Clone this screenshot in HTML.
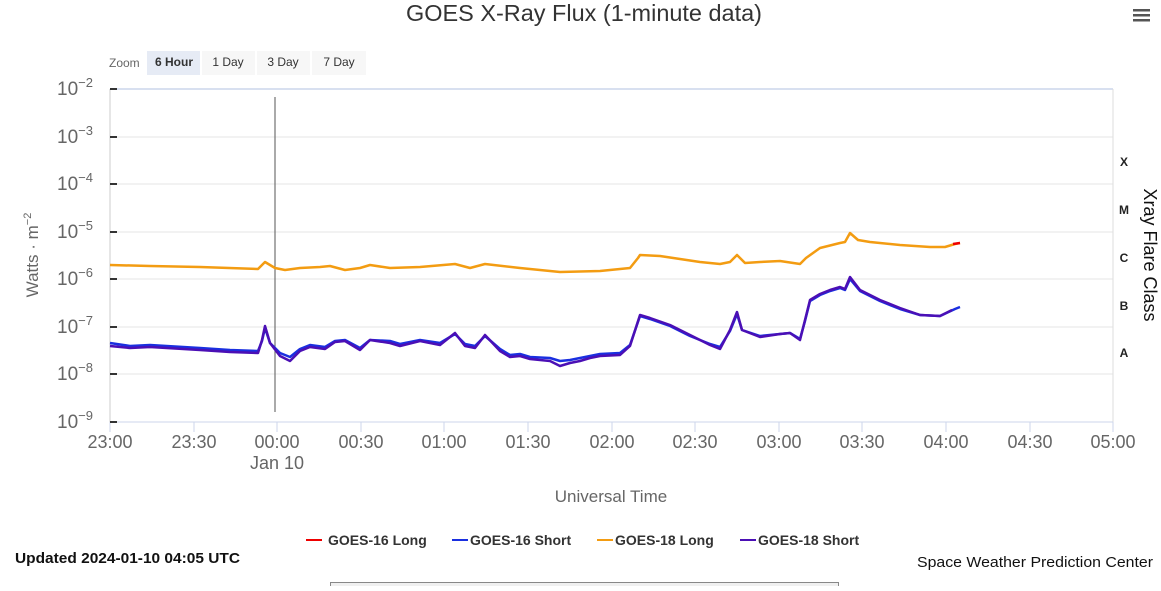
<!DOCTYPE html>
<html><head><meta charset="utf-8"><style>
body{margin:0;background:#fff;width:1161px;height:586px;overflow:hidden;font-family:"Liberation Sans","DejaVu Sans",sans-serif}
svg text{font-family:"Liberation Sans","DejaVu Sans",sans-serif}
</style></head><body>
<svg width="1161" height="586" viewBox="0 0 1161 586">
<text x="584" y="21" text-anchor="middle" font-size="23" fill="#333" textLength="356" lengthAdjust="spacingAndGlyphs">GOES X-Ray Flux (1-minute data)</text>
<g fill="#555"><rect x="1133" y="9" width="17" height="2.5"/><rect x="1133" y="14" width="17" height="2.5"/><rect x="1133" y="19" width="17" height="2.5"/></g>
<text x="109" y="67" font-size="12" fill="#666">Zoom</text>
<rect x="147" y="51" width="53" height="24" fill="#e6ebf5"/>
<rect x="202" y="51" width="53" height="24" fill="#f7f7f7"/>
<rect x="257" y="51" width="53" height="24" fill="#f7f7f7"/>
<rect x="312" y="51" width="54" height="24" fill="#f7f7f7"/>
<g font-size="12" fill="#333" text-anchor="middle"><text x="174" y="66" font-weight="bold">6 Hour</text><text x="228" y="66">1 Day</text><text x="283" y="66">3 Day</text><text x="339" y="66">7 Day</text></g>
<g stroke="#e6e6e6" stroke-width="1">
<line x1="110" y1="137" x2="1113" y2="137"/><line x1="110" y1="184" x2="1113" y2="184"/><line x1="110" y1="232" x2="1113" y2="232"/><line x1="110" y1="279" x2="1113" y2="279"/><line x1="110" y1="327" x2="1113" y2="327"/><line x1="110" y1="374" x2="1113" y2="374"/>
</g>
<line x1="110" y1="89" x2="1113" y2="89" stroke="#ccd6eb" stroke-width="1.5"/>
<line x1="1113" y1="89" x2="1113" y2="422" stroke="#ddd"/>
<line x1="110" y1="89" x2="110" y2="422" stroke="#ccc"/>
<line x1="110" y1="422" x2="1113" y2="422" stroke="#ccd6eb"/>
<g stroke="#ccd6eb"><line x1="110" y1="422" x2="110" y2="432"/><line x1="194" y1="422" x2="194" y2="432"/><line x1="277" y1="422" x2="277" y2="432"/><line x1="361" y1="422" x2="361" y2="432"/><line x1="444" y1="422" x2="444" y2="432"/><line x1="528" y1="422" x2="528" y2="432"/><line x1="612" y1="422" x2="612" y2="432"/><line x1="695" y1="422" x2="695" y2="432"/><line x1="779" y1="422" x2="779" y2="432"/><line x1="862" y1="422" x2="862" y2="432"/><line x1="946" y1="422" x2="946" y2="432"/><line x1="1030" y1="422" x2="1030" y2="432"/><line x1="1113" y1="422" x2="1113" y2="432"/></g>
<g stroke="#333" stroke-width="2"><line x1="110" y1="89" x2="117" y2="89"/><line x1="110" y1="137" x2="117" y2="137"/><line x1="110" y1="184" x2="117" y2="184"/><line x1="110" y1="232" x2="117" y2="232"/><line x1="110" y1="279" x2="117" y2="279"/><line x1="110" y1="327" x2="117" y2="327"/><line x1="110" y1="374" x2="117" y2="374"/><line x1="110" y1="422" x2="117" y2="422"/></g>
<g font-size="19" fill="#666" text-anchor="end">
<text x="93" y="95">10<tspan dy="-8" font-size="13">−2</tspan></text>
<text x="93" y="143">10<tspan dy="-8" font-size="13">−3</tspan></text>
<text x="93" y="190">10<tspan dy="-8" font-size="13">−4</tspan></text>
<text x="93" y="238">10<tspan dy="-8" font-size="13">−5</tspan></text>
<text x="93" y="285">10<tspan dy="-8" font-size="13">−6</tspan></text>
<text x="93" y="333">10<tspan dy="-8" font-size="13">−7</tspan></text>
<text x="93" y="380">10<tspan dy="-8" font-size="13">−8</tspan></text>
<text x="93" y="428">10<tspan dy="-8" font-size="13">−9</tspan></text>
</g>
<g font-size="18" fill="#666" text-anchor="middle">
<text x="110" y="448">23:00</text><text x="194" y="448">23:30</text><text x="277" y="448">00:00</text><text x="277" y="469">Jan 10</text><text x="361" y="448">00:30</text><text x="444" y="448">01:00</text><text x="528" y="448">01:30</text><text x="612" y="448">02:00</text><text x="695" y="448">02:30</text><text x="779" y="448">03:00</text><text x="862" y="448">03:30</text><text x="946" y="448">04:00</text><text x="1030" y="448">04:30</text><text x="1113" y="448">05:00</text>
</g>
<text x="611" y="502" text-anchor="middle" font-size="17" fill="#666">Universal Time</text>
<text transform="translate(38,255) rotate(-90)" text-anchor="middle" font-size="17" fill="#666">Watts · m<tspan dy="-7" font-size="11">−2</tspan></text>
<g font-family="Liberation Mono,monospace" font-size="12" font-weight="bold" fill="#222" text-anchor="middle">
<text x="1124" y="166">X</text><text x="1124" y="214">M</text><text x="1124" y="262">C</text><text x="1124" y="310">B</text><text x="1124" y="357">A</text></g>
<text transform="translate(1144,255) rotate(90)" text-anchor="middle" font-size="18" fill="#111">Xray Flare Class</text>
<line x1="275" y1="97" x2="275" y2="412" stroke="#555" stroke-width="1"/>
<g fill="none" stroke-width="2.5" stroke-linejoin="round">
<polyline stroke="#f39c12" points="110,265 150,266 200,267 258,269 265,262 275,268 285,270 300,268 320,267 330,266 345,270 360,268 370,265 390,268 420,267 455,264 470,268 485,264 520,268 560,272 600,271 630,268 638,258 640,255 660,256 680,259 700,262 720,264 730,262 737,255 745,263 760,262 780,261 800,264 806,258 820,248 840,243 845,242 850,233 858,240 870,242 900,245 930,247 945,247 955,244 960,243"/>
<polyline stroke="#e00" points="953,244 960,243"/>
<polyline stroke="#1a2fe0" points="110,343 130,346 150,345 200,348 230,350 258,351 262,341 265,328 270,343 280,353 290,357 300,349 310,345 325,347 335,341 345,340 360,348 370,340 390,341 400,344 420,340 440,343 455,334 465,344 475,346 485,336 500,349 510,355 520,354 530,357 550,358 560,361 570,360 580,358 590,356 600,354 620,353 630,345 640,316 650,319 670,326 690,336 710,344 720,347 730,331 737,314 742,330 760,336 780,334 790,333 800,339 805,321 810,301 820,295 830,291 840,288 845,290 850,279 860,291 880,301 900,309 920,315 940,316 955,309 960,307"/>
<polyline stroke="#4b0fb5" points="110,346 130,348 150,347 200,350 230,352 258,353 262,340 265,326 270,343 280,356 290,361 300,351 310,347 325,349 335,342 345,341 360,350 370,340 390,343 400,346 420,341 440,345 455,333 465,346 475,348 485,335 500,351 510,357 520,356 530,359 550,361 560,366 570,363 580,361 590,358 600,356 620,355 630,346 640,315 650,318 670,325 690,335 710,345 720,349 730,330 737,312 742,330 760,337 780,334 790,333 800,340 805,320 810,300 820,294 830,290 840,287 845,289 850,277 860,290 880,300 900,308 920,315 940,316 952,310"/>
</g>
<g font-size="14" font-weight="bold" fill="#333">
<line x1="306" y1="540" x2="322" y2="540" stroke="#e00" stroke-width="2"/><text x="328" y="545">GOES-16 Long</text>
<line x1="452" y1="540" x2="468" y2="540" stroke="#1a2fe0" stroke-width="2"/><text x="470" y="545">GOES-16 Short</text>
<line x1="597" y1="540" x2="613" y2="540" stroke="#f39c12" stroke-width="2"/><text x="615" y="545">GOES-18 Long</text>
<line x1="740" y1="540" x2="756" y2="540" stroke="#4b0fb5" stroke-width="2"/><text x="758" y="545">GOES-18 Short</text>
</g>
<text x="15" y="563" font-size="15" font-weight="bold" fill="#111" textLength="225" lengthAdjust="spacingAndGlyphs">Updated 2024-01-10 04:05 UTC</text>
<text x="1153" y="567" text-anchor="end" font-size="15" fill="#111" textLength="236" lengthAdjust="spacingAndGlyphs">Space Weather Prediction Center</text>
<rect x="330.5" y="582.5" width="508" height="10" fill="#f0f0f0" stroke="#888"/>
</svg>
</body></html>
